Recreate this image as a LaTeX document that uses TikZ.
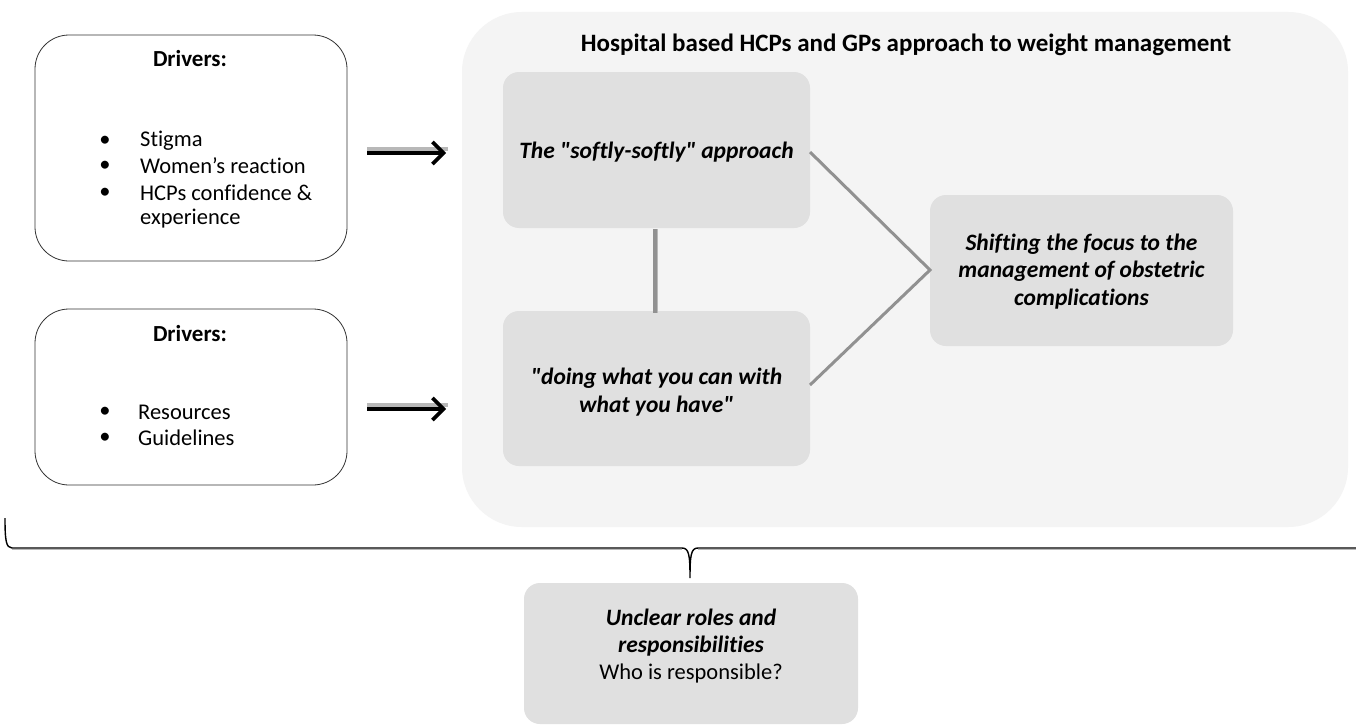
\documentclass[tikz,border=0pt]{standalone}
\usepackage{fontspec}
\setmainfont{Carlito}[Ligatures={TeXOff,CommonOff}]
\usetikzlibrary{arrows.meta}
\definecolor{bgpanel}{HTML}{F4F4F4}
\definecolor{boxgrey}{HTML}{E0E0E0}
\definecolor{linkgrey}{HTML}{919191}
\definecolor{shadowgrey}{HTML}{B8B8B8}
\tikzset{
  every node/.style={font=\fontsize{22.5}{26}\selectfont, text=black, inner sep=0pt},
  bfit/.style={font=\bfseries\itshape\fontsize{23.5}{27.5}\selectfont, align=center},
  bfhead/.style={font=\bfseries\fontsize{23}{27}\selectfont},
  driverbox/.style={draw=black!80, line width=0.8pt, rounded corners=34pt, fill=white},
  themebox/.style={fill=boxgrey, rounded corners=16pt},
  link/.style={draw=linkgrey, line width=3pt},
  bigarrow/.style={line width=3.6pt, -{Straight Barb[length=11pt,width=22pt,line width=3.6pt]}},
  arrowshadow/.style={shadowgrey, line width=3.6pt},
}
\begin{document}
\begin{tikzpicture}[x=1pt,y=-1pt]
\useasboundingbox (0,0) rectangle (1356,725);
\fill[white] (0,0) rectangle (1356,725);
% background panel
\fill[bgpanel, rounded corners=60pt] (462,12) rectangle (1348,527);
\node[font=\bfseries\fontsize{25}{28}\selectfont] (title) at (906,45) {Hospital based HCPs and GPs approach to weight management};

% driver boxes
\draw[driverbox] (35,35) rectangle (347,261);
\node[bfhead] (d1) at (190,59) {Drivers:};
\node (b1a) at (105,141) {•};
\node (b1b) at (105,166) {•};
\node (b1c) at (105,193) {•};
\node[anchor=west] (t1a) at (140,141) {Stigma};
\node[anchor=west] (t1b) at (140,166) {Women’s reaction};
\node[anchor=west] (t1c) at (140,193) {HCPs confidence \&};
\node[anchor=west] (t1d) at (140,219) {experience};

\draw[driverbox] (35,309) rectangle (347,485);
\node[bfhead] (d2) at (190,334) {Drivers:};
\node (b2a) at (105,412) {•};
\node (b2b) at (105,438) {•};
\node[anchor=west] (t2a) at (138,412) {Resources};
\node[anchor=west] (t2b) at (138,438) {Guidelines};

% arrows
\coordinate (a1s) at (367,153);
\coordinate (a1e) at (446,153);
\coordinate (a2s) at (367,409);
\coordinate (a2e) at (446,409);
\draw[arrowshadow] ([yshift=4pt]a1s) -- ([yshift=4pt,xshift=2pt]a1e);
\draw[arrowshadow] ([yshift=4pt]a2s) -- ([yshift=4pt,xshift=2pt]a2e);
\draw[bigarrow] (a1s) -- (a1e);
\draw[bigarrow] (a2s) -- (a2e);

% theme boxes
\fill[themebox] (503,72) rectangle (810,228);
\node[bfit] (At) at (656.5,152) {The "softly-softly" approach};
\fill[themebox] (503,311) rectangle (810,466);
\node[bfit] (Bt) at (656.5,392) {"doing what you can with\\what you have"};
\fill[themebox] (930,195) rectangle (1233,346);
\node[bfit] (Ct) at (1081.5,271.5) {Shifting the focus to the\\management of obstetric\\complications};

% links
\coordinate (vA) at (655,229);
\coordinate (vB) at (655,313);
\draw[shadowgrey, line width=3pt] ([xshift=1.5pt]vA) -- ([xshift=1.5pt]vB);
\draw[link, line width=3.5pt] (vA) -- (vB);
\coordinate (lA) at (810,152);
\coordinate (lB) at (810,385);
\coordinate (lC) at (930,270);
\draw[link, line join=miter] (lA) -- (lC) -- (lB);

% brace
\coordinate (brL) at (5,518);
\coordinate (brR) at (1356,548);
\coordinate (brTip) at (690,578);
\draw[shadowgrey, line width=1.2pt, yshift=-1.5pt] (12,548) -- (682,548) (698,548) -- (1356,548);
\draw[black, line width=1.4pt] (brL) .. controls (5,540) and (6,548) .. (12,548) -- (682,548) .. controls (689,548) and (690,555) .. (brTip) .. controls (690,555) and (691,548) .. (698,548) -- (brR);

% bottom box
\fill[themebox] (524,583) rectangle (858,724);
\node[bfit] (Dt) at (691,632.5) {Unclear roles and\\responsibilities};
\node (Dq) at (691,673) {Who is responsible?};
\end{tikzpicture}
\end{document}
